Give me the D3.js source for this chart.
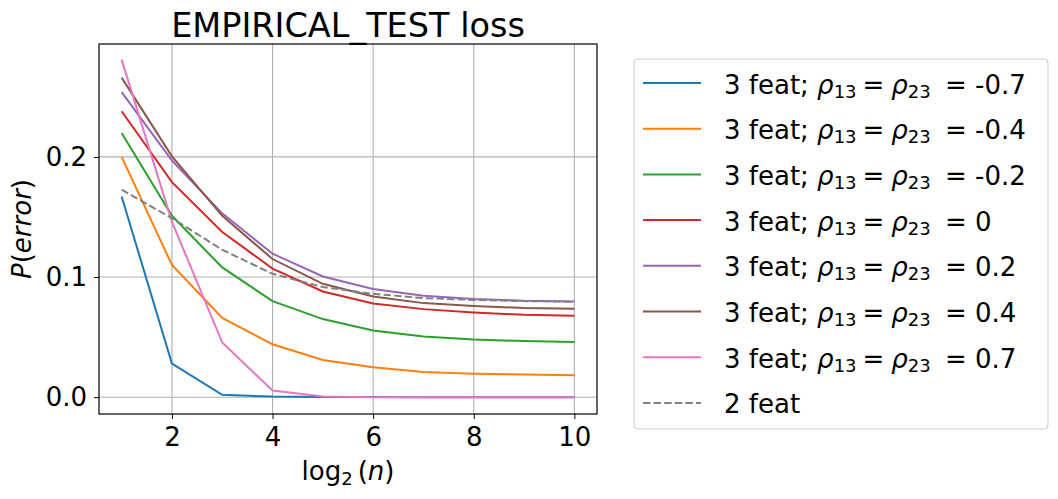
<!DOCTYPE html>
<html>
<head>
<meta charset="utf-8">
<script src="https://cdn.jsdelivr.net/npm/d3@7"></script>
<style>
  body { margin: 0; background: #fff; }
  text { font-family: "DejaVu Sans", sans-serif; }
</style>
</head>
<body>
<svg id="chart" width="1058" height="499"></svg>
<script>
// x values are log2(n)
const logN = [1, 2, 3, 4, 5, 6, 7, 8, 9, 10];

const rhoLabels = ["-0.7", "-0.4", "-0.2", "0", "0.2", "0.4", "0.7"];
const colors = ["#1f77b4", "#ff7f0e", "#2ca02c", "#d62728", "#9467bd", "#8c564b", "#e377c2"];

const lossM07 = [0.167, 0.028, 0.002, 0.0005, 0.0002, 0.0001, 0, 0, 0, 0];
const lossM04 = [0.200, 0.110, 0.066, 0.044, 0.031, 0.025, 0.021, 0.0195, 0.0188, 0.0182];
const lossM02 = [0.220, 0.151, 0.108, 0.080, 0.065, 0.0555, 0.0505, 0.048, 0.0467, 0.046];
const loss0   = [0.238, 0.179, 0.1375, 0.107, 0.088, 0.078, 0.0733, 0.0705, 0.0686, 0.0678];
const lossP02 = [0.254, 0.197, 0.153, 0.1194, 0.1005, 0.090, 0.0844, 0.0817, 0.0802, 0.0797];
const lossP04 = [0.266, 0.2005, 0.151, 0.115, 0.0944, 0.0838, 0.0783, 0.076, 0.0742, 0.0736];
const lossP07 = [0.281, 0.146, 0.0455, 0.0055, 0.0005, 0, 0, 0, 0, 0];
const loss2feat = [0.1727, 0.149, 0.1227, 0.1027, 0.0917, 0.086, 0.0825, 0.081, 0.080, 0.0795];

const series3 = [lossM07, lossM04, lossM02, loss0, lossP02, lossP04, lossP07];

const xTicks = [2, 4, 6, 8, 10];
const yTicks = [0.0, 0.1, 0.2];

const svg = d3.select("#chart");
const pLeft = 99, pRight = 597, pTop = 44, pBottom = 414;
const fs = 26;

const x = d3.scaleLinear().domain([0.55, 10.45]).range([pLeft, pRight]);
const y = d3.scaleLinear().domain([-0.014, 0.294]).range([pBottom, pTop]);

// grid
svg.append("g").selectAll("line").data(xTicks).enter().append("line")
  .attr("x1", d => x(d)).attr("x2", d => x(d))
  .attr("y1", pTop).attr("y2", pBottom)
  .attr("stroke", "#b0b0b0").attr("stroke-width", 1.1);
svg.append("g").selectAll("line").data(yTicks).enter().append("line")
  .attr("x1", pLeft).attr("x2", pRight)
  .attr("y1", d => y(d)).attr("y2", d => y(d))
  .attr("stroke", "#b0b0b0").attr("stroke-width", 1.1);

const line = d3.line().x((d, i) => x(logN[i])).y(d => y(d));

series3.forEach((s, i) => {
  svg.append("path").datum(s)
    .attr("d", line)
    .attr("fill", "none")
    .attr("stroke", colors[i])
    .attr("stroke-width", 2);
});
svg.append("path").datum(loss2feat)
  .attr("d", line)
  .attr("fill", "none")
  .attr("stroke", "#808080")
  .attr("stroke-width", 2)
  .attr("stroke-dasharray", "7.4,3.2");

// axes
const xAxis = svg.append("g").attr("transform", `translate(0,${pBottom})`)
  .call(d3.axisBottom(x).tickValues(xTicks).tickFormat(d3.format("d")).tickSize(5).tickPadding(9));
const yAxis = svg.append("g").attr("transform", `translate(${pLeft},0)`)
  .call(d3.axisLeft(y).tickValues(yTicks).tickFormat(d3.format(".1f")).tickSize(5).tickPadding(7));
[xAxis, yAxis].forEach(a => {
  a.select(".domain").remove();
  a.selectAll("line").attr("stroke", "#000").attr("stroke-width", 1);
  a.selectAll("text").attr("font-size", fs).attr("fill", "#000")
    .style("font-family", "DejaVu Sans");
});

svg.append("rect").attr("x", pLeft).attr("y", pTop)
  .attr("width", pRight - pLeft).attr("height", pBottom - pTop)
  .attr("fill", "none").attr("stroke", "#000").attr("stroke-width", 1.2);

// title
svg.append("text").attr("x", (pLeft + pRight) / 2).attr("y", 37)
  .attr("text-anchor", "middle").attr("font-size", 33.5)
  .text("EMPIRICAL_TEST loss");

// x label: log2(n)
const xl = svg.append("text").attr("x", (pLeft + pRight) / 2).attr("y", 480)
  .attr("text-anchor", "middle").attr("font-size", fs);
xl.append("tspan").text("log");
xl.append("tspan").attr("font-size", 18).attr("dy", 5).text("2");
xl.append("tspan").attr("dy", -5).attr("dx", 5).text("(");
xl.append("tspan").attr("font-style", "italic").text("n");
xl.append("tspan").text(")");

// y label: P(error)
const yl = svg.append("text")
  .attr("transform", `translate(31,${(pTop + pBottom) / 2}) rotate(-90)`)
  .attr("text-anchor", "middle").attr("font-size", fs);
yl.append("tspan").attr("font-style", "italic").text("P");
yl.append("tspan").text("(");
yl.append("tspan").attr("font-style", "italic").text("error");
yl.append("tspan").text(")");

// legend
const lg = svg.append("g");
lg.append("rect").attr("x", 634).attr("y", 59).attr("width", 414).attr("height", 370)
  .attr("rx", 4).attr("fill", "#fff").attr("fill-opacity", 0.8)
  .attr("stroke", "#cccccc").attr("stroke-width", 1);

const rowY = i => 83 + i * 45.7;
rhoLabels.forEach((r, i) => {
  const cy = rowY(i);
  lg.append("line").attr("x1", 643).attr("x2", 701).attr("y1", cy).attr("y2", cy)
    .attr("stroke", colors[i]).attr("stroke-width", 2);
  const t = lg.append("text").attr("x", 724).attr("y", cy + 10.5).attr("font-size", fs)
    .attr("xml:space", "preserve");
  t.append("tspan").text("3 feat; ");
  t.append("tspan").attr("font-style", "italic").text("ρ");
  t.append("tspan").attr("font-size", 18).attr("dy", 4).text("13");
  t.append("tspan").attr("dy", -4).attr("dx", 6).text("=");
  t.append("tspan").attr("dx", 7).attr("font-style", "italic").text("ρ");
  t.append("tspan").attr("font-size", 18).attr("dy", 4).text("23");
  t.append("tspan").attr("dy", -4).attr("dx", 6).text(" = " + r);
});
{
  const cy = rowY(7);
  lg.append("line").attr("x1", 643).attr("x2", 701).attr("y1", cy).attr("y2", cy)
    .attr("stroke", "#808080").attr("stroke-width", 2).attr("stroke-dasharray", "7.4,3.2");
  lg.append("text").attr("x", 724).attr("y", cy + 10.5).attr("font-size", fs).text("2 feat");
}
</script>
</body>
</html>
